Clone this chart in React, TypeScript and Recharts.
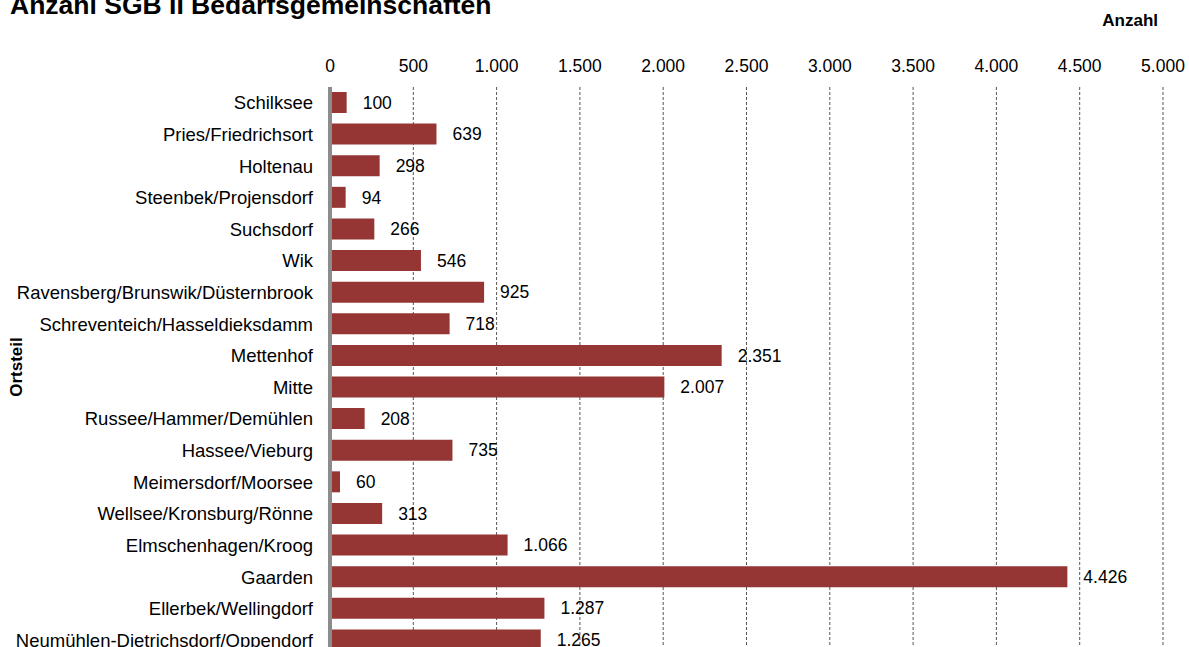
import React from 'react';
import {BarChart, Bar, XAxis, YAxis, CartesianGrid, LabelList} from 'recharts';

const districts = [
  'Schilksee',
  'Pries/Friedrichsort',
  'Holtenau',
  'Steenbek/Projensdorf',
  'Suchsdorf',
  'Wik',
  'Ravensberg/Brunswik/Düsternbrook',
  'Schreventeich/Hasseldieksdamm',
  'Mettenhof',
  'Mitte',
  'Russee/Hammer/Demühlen',
  'Hassee/Vieburg',
  'Meimersdorf/Moorsee',
  'Wellsee/Kronsburg/Rönne',
  'Elmschenhagen/Kroog',
  'Gaarden',
  'Ellerbek/Wellingdorf',
  'Neumühlen-Dietrichsdorf/Oppendorf',
];

const households = [
  100, 639, 298, 94, 266, 546, 925, 718, 2351, 2007, 208, 735, 60, 313, 1066,
  4426, 1287, 1265,
];

const xTicks = [0, 500, 1000, 1500, 2000, 2500, 3000, 3500, 4000, 4500, 5000];

const FONT = "'Liberation Sans', Arial, sans-serif";

// 1234 -> "1.234"
const formatDe = (v: number) =>
  String(v).replace(/\B(?=(\d{3})+(?!\d))/g, '.');

const data = districts.map((name, i) => ({name, value: households[i]}));

const App = () => {
  return (
    <div
      style={{
        position: 'fixed',
        left: 0,
        top: 0,
        width: 1189,
        height: 647,
        overflow: 'hidden',
        background: '#fff',
        fontFamily: FONT,
      }}
    >
      <div style={{position: 'absolute', left: 0, top: 0}}>
        <BarChart
          width={1189}
          height={656}
          data={data}
          layout='vertical'
          margin={{top: 57, right: 26, left: 0, bottom: 0}}
        >
          <CartesianGrid
            horizontal={false}
            stroke='#555'
            strokeDasharray='3 2'
          />
          <XAxis
            type='number'
            orientation='top'
            domain={[0, 5000]}
            ticks={xTicks}
            tickFormatter={formatDe}
            axisLine={false}
            tickLine={false}
            tickSize={0}
            tickMargin={15}
            height={30}
            interval={0}
            tick={{fill: '#000', fontSize: 17.5, fontFamily: FONT}}
          />
          <YAxis
            type='category'
            dataKey='name'
            width={330}
            axisLine={{stroke: '#8c8c8c', strokeWidth: 4}}
            tickLine={false}
            tickSize={0}
            tickMargin={17}
            interval={0}
            tick={{fill: '#000', fontSize: 18.5, fontFamily: FONT}}
          />
          <Bar dataKey='value' fill='#963634' barSize={21} isAnimationActive={false}>
            <LabelList
              dataKey='value'
              position='right'
              offset={16}
              formatter={(v: any) => formatDe(Number(v))}
              style={{fill: '#000', fontSize: 17.5, fontFamily: FONT}}
            />
          </Bar>
        </BarChart>
      </div>
      <svg
        width={1189}
        height={647}
        style={{position: 'absolute', left: 0, top: 0, pointerEvents: 'none'}}
      >
        <text x={10} y={14} fontSize={26.5} fontWeight='bold' fill='#000' fontFamily={FONT}>
          Anzahl SGB II Bedarfsgemeinschaften
        </text>
        <text x={1158} y={26} fontSize={17} fontWeight='bold' fill='#000' textAnchor='end' fontFamily={FONT}>
          Anzahl
        </text>
        <text
          x={22}
          y={367}
          fontSize={17}
          fontWeight='bold'
          fill='#000'
          textAnchor='middle'
          fontFamily={FONT}
          transform='rotate(-90, 22, 367)'
        >
          Ortsteil
        </text>
      </svg>
    </div>
  );
};

export default App;
